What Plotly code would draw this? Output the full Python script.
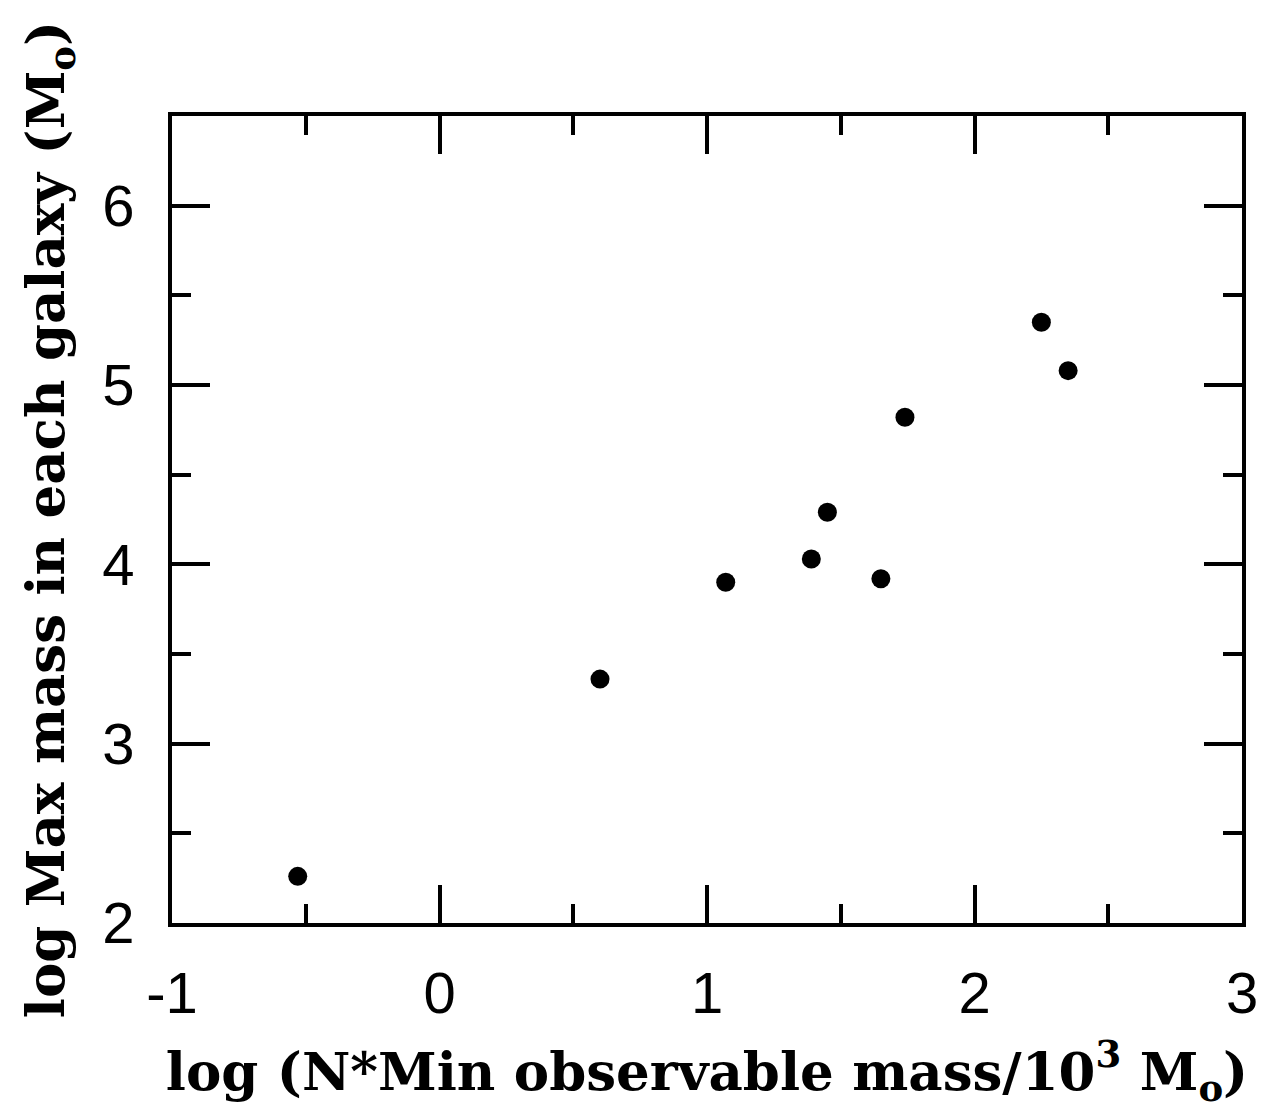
import plotly.graph_objects as go

# Data
x_vals = [-0.53, 0.60, 1.07, 1.39, 1.45, 1.65, 1.74, 2.25, 2.35]
y_vals = [2.26, 3.36, 3.90, 4.03, 4.29, 3.92, 4.82, 5.35, 5.08]

x_ticks = [-1, 0, 1, 2, 3]
y_ticks = [2, 3, 4, 5, 6]

x_title = "log (N*Min observable mass/10<sup>3</sup> M<sub>o</sub>)"
y_title = "log Max mass in each galaxy (M<sub>o</sub>)"

fig = go.Figure()
fig.add_trace(go.Scatter(
    x=x_vals, y=y_vals, mode="markers",
    marker=dict(color="black", size=19, line=dict(width=0)),
    showlegend=False,
))

title_font = dict(family="DejaVu Serif", size=53, color="black", weight="bold")
tick_font = dict(family="Liberation Sans, Arial", size=58, color="black")

fig.update_xaxes(
    range=[-1, 3], tickvals=x_ticks, ticktext=[str(v) for v in x_ticks],
    ticks="inside", ticklen=38, tickwidth=4, tickcolor="black",
    minor=dict(ticks="inside", ticklen=19, tickwidth=4, tickcolor="black", dtick=0.5, tick0=-1, showgrid=False),
    showline=True, linewidth=4, linecolor="black", mirror="ticks",
    showgrid=False, zeroline=False,
    tickfont=tick_font, ticklabelstandoff=16,
    title=dict(text=x_title, font=title_font, standoff=30),
)
fig.update_yaxes(
    range=[2, 6.5], tickvals=y_ticks, ticktext=[str(v) for v in y_ticks],
    ticks="inside", ticklen=38, tickwidth=4, tickcolor="black",
    minor=dict(ticks="inside", ticklen=19, tickwidth=4, tickcolor="black", dtick=0.5, tick0=2, showgrid=False),
    showline=True, linewidth=4, linecolor="black", mirror="ticks",
    showgrid=False, zeroline=False,
    tickfont=tick_font, ticklabelstandoff=22,
    title=dict(text=y_title, font=title_font, standoff=22),
)

fig.update_layout(
    width=1268, height=1114,
    margin=dict(l=164, r=34, t=108, b=199),
    paper_bgcolor="white", plot_bgcolor="white",
)

fig.write_html("out.html")
